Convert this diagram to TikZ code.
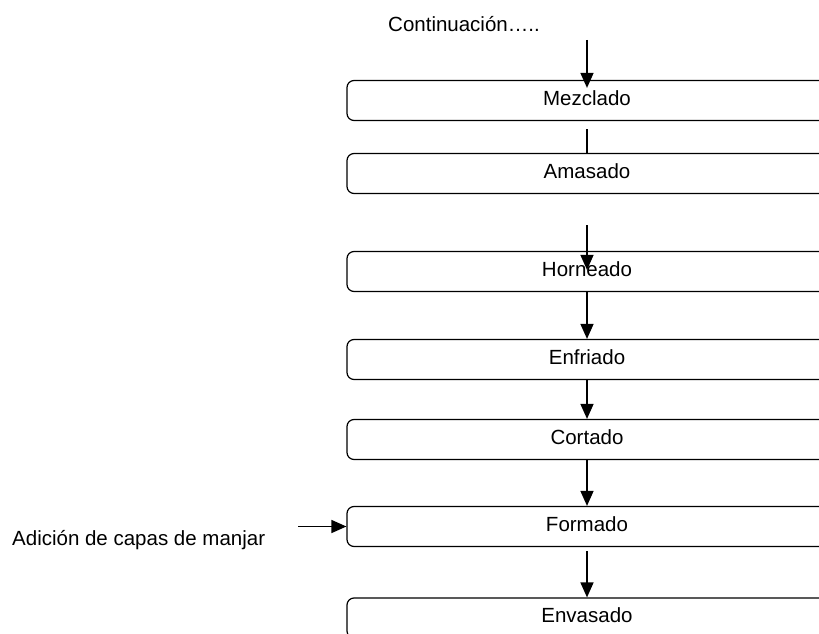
\documentclass[tikz,border=0pt]{standalone}
\usepackage{fontspec}
\setmainfont{Liberation Sans}
\usetikzlibrary{arrows.meta}
\usetikzlibrary{positioning}

\tikzset{
  paso/.style={draw, line width=1.2pt, rounded corners=7pt, minimum width=480pt, minimum height=40pt, inner sep=0pt, text height=15pt, text depth=6pt},
  flecha/.style={line width=1.5pt, -{Triangle[length=15pt,width=13pt]}},
  linea/.style={line width=1.5pt}
}

\begin{document}
\begin{tikzpicture}[x=1pt, y=-1pt, font=\fontsize{20.5}{24}\selectfont]
 \useasboundingbox (0,0) rectangle (819,634);
 \clip (0,0) rectangle (819,634);

    % draw steps
    \node[paso] (mez) at (587,100.5) {Mezclado};
    \node[paso] (ama) at (587,173.5) {Amasado};
    \node[paso] (horn) at (587,271.5) {Horneado};
    \node[paso] (enfr) at (587,359.5) {Enfriado};
    \node[paso] (cort) at (587,439.5) {Cortado};
    \node[paso] (form) at (587,526.5) {Formado};
    \node[paso] (env) at (587,618) {Envasado};

    % draw texts
    \node[anchor=base west, inner sep=0pt] (cont) at (388,32) {Continuación…..};
    \node[anchor=base west, inner sep=0pt] (adic) at (12,545) {Adición de capas de manjar};

 \coordinate (cont_end) at (587,40);
 \coordinate (horn_in) at (587,225);
 \coordinate (adic_end) at (298,526.5);

    % draw arrows
    \draw[flecha] (cont_end) -- ([yshift=-8pt]mez.north);
    \draw[linea] ([yshift=-8pt]mez.south) -- (ama.north);
    \draw[flecha] (horn_in) -- ([yshift=-19pt]horn.north);
    \draw[flecha] (horn) -- (enfr);
    \draw[flecha] (enfr) -- (cort);
    \draw[flecha] (cort) -- (form);
    \draw[flecha] ([yshift=-4pt]form.south) -- (env.north);
    \draw[flecha] (adic_end) -- (form.west);
\end{tikzpicture}
\end{document}
